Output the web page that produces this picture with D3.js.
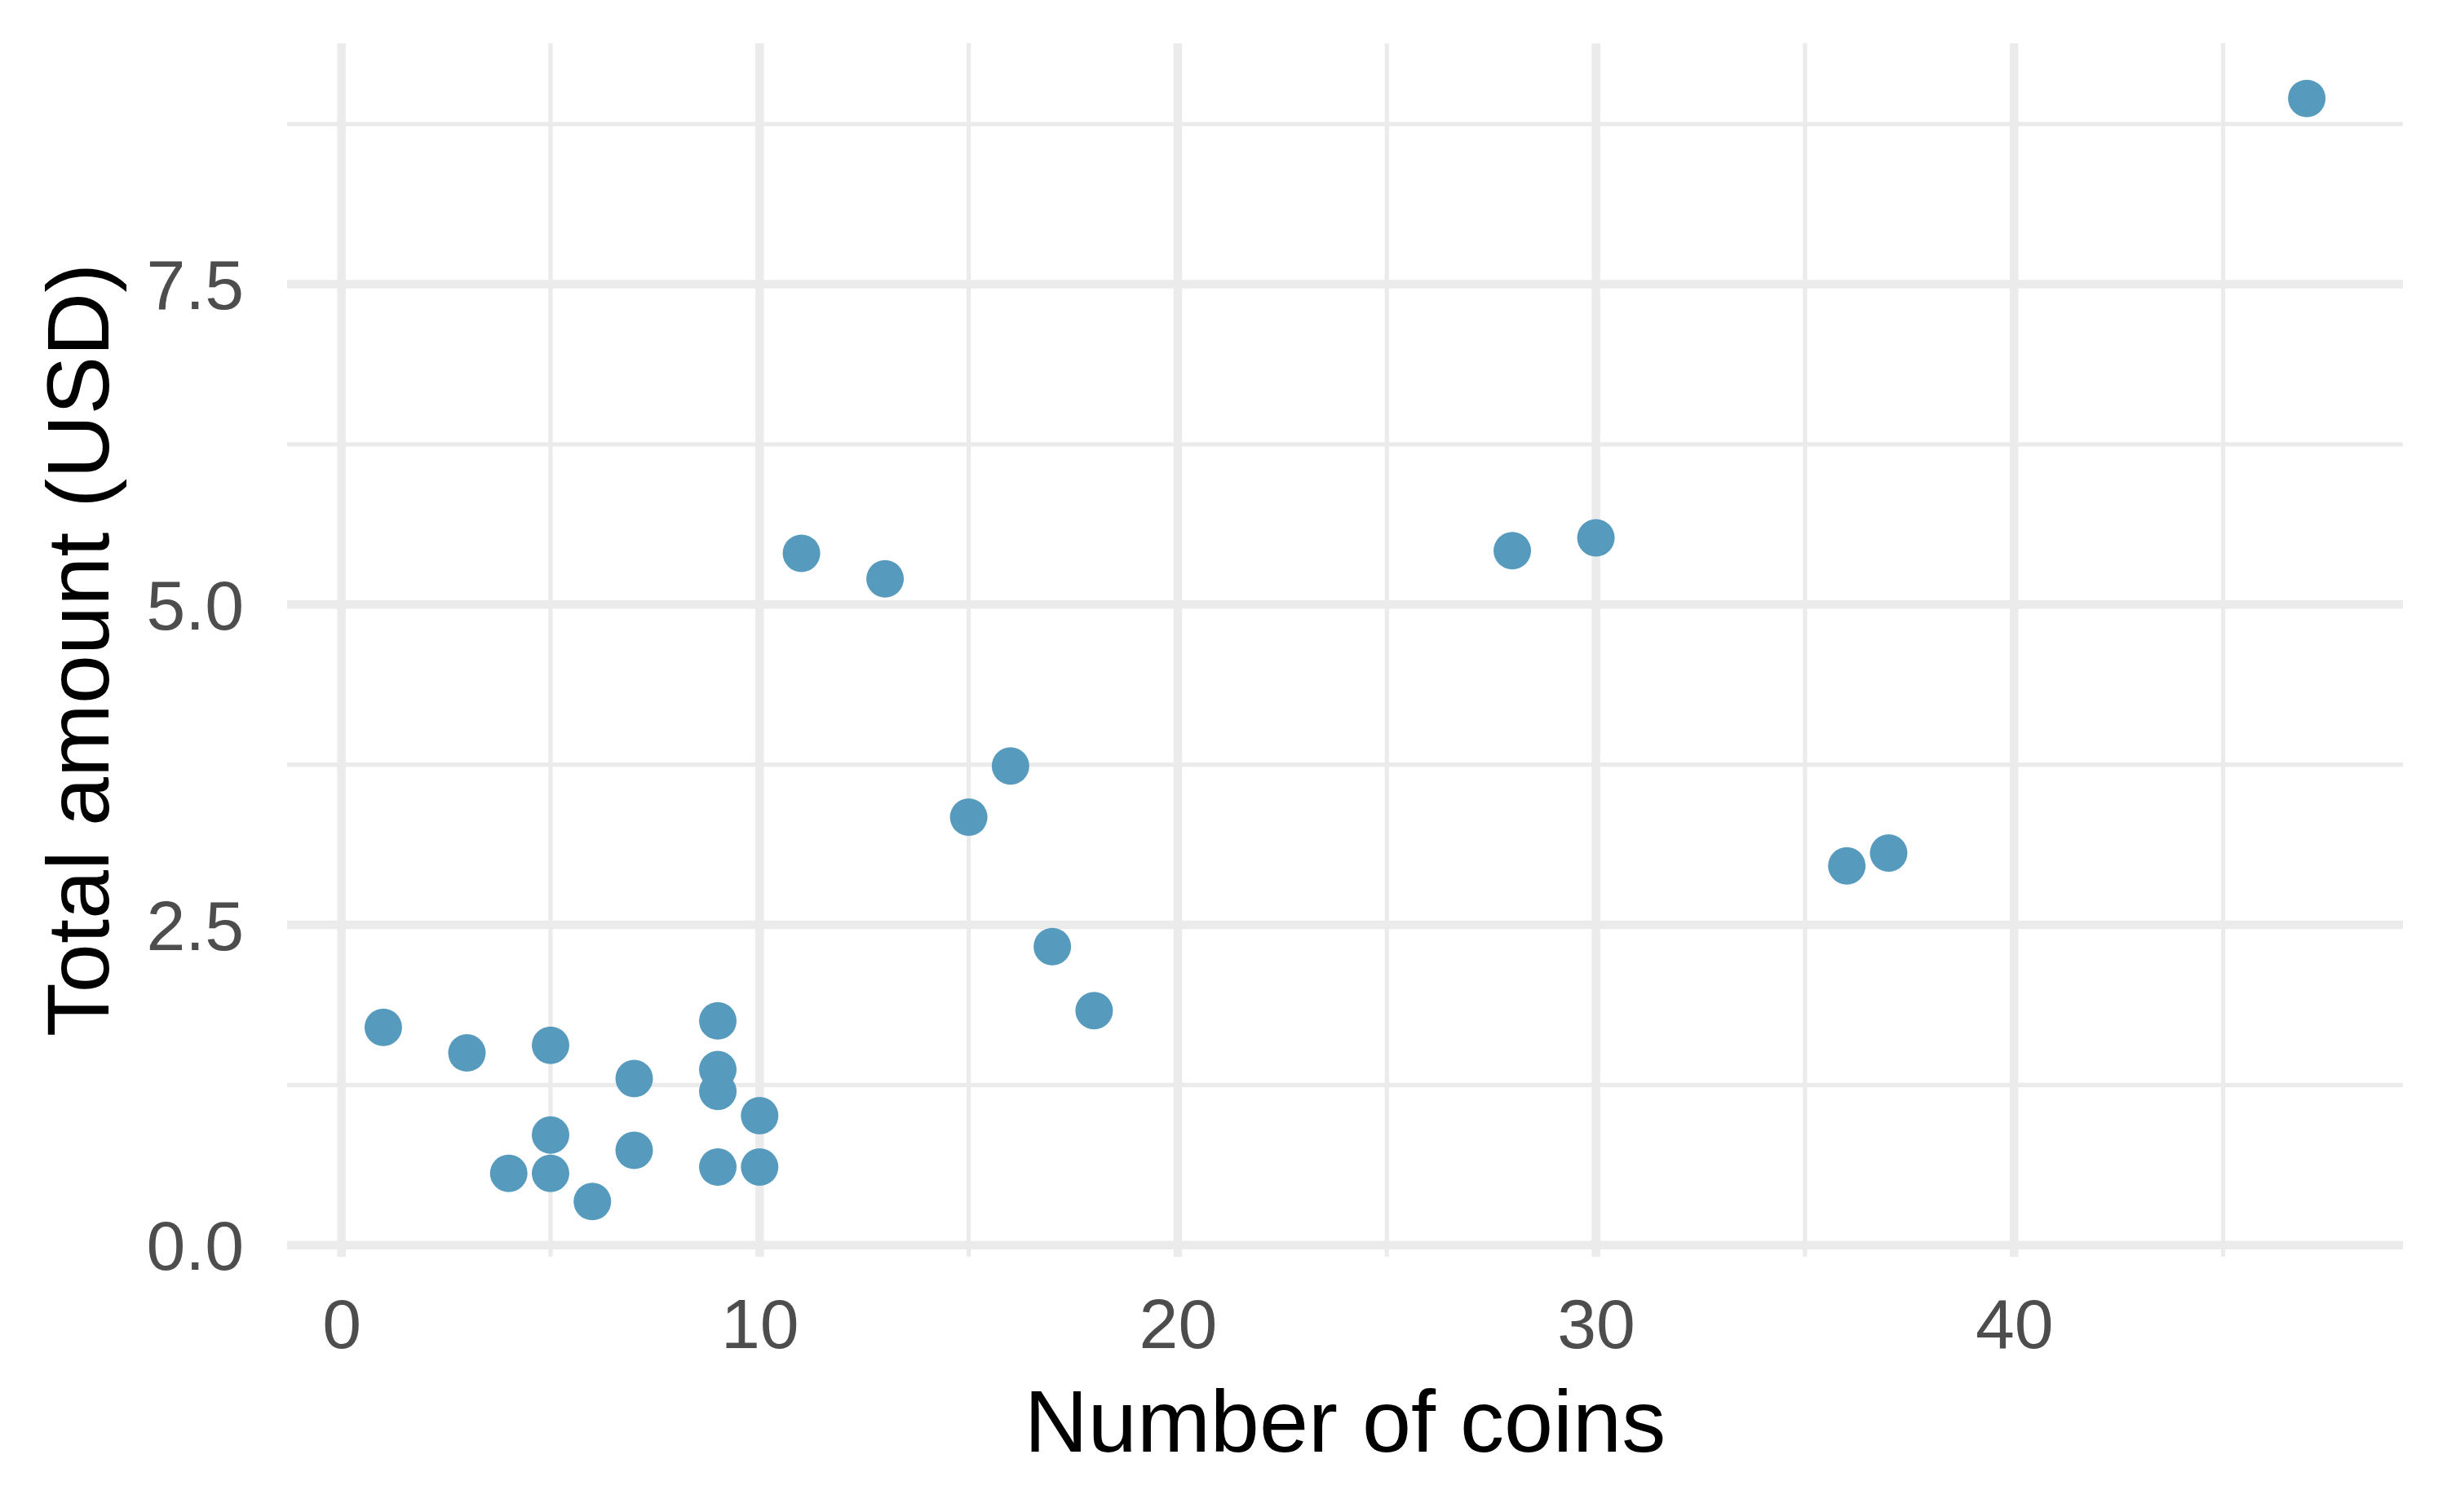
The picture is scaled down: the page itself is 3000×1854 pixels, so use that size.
<!DOCTYPE html>
<html>
<head>
<meta charset="utf-8">
<script src="https://cdn.jsdelivr.net/npm/d3@7"></script>
<style>
  html, body { margin: 0; padding: 0; background: #ffffff; }
  svg { display: block; }
  text { font-family: "Liberation Sans", Arial, Helvetica, sans-serif; }
</style>
</head>
<body>
<script>
// ---- data ----
const coins  = [1, 3, 5, 7, 9, 9, 9, 10, 5, 4, 5, 6, 7, 9, 10, 11, 13, 15, 16, 17, 18, 28, 30, 36, 37, 47];
const amount = [1.70, 1.50, 1.56, 1.30, 1.75, 1.37, 1.20, 1.01, 0.86, 0.56, 0.56, 0.34, 0.74, 0.61, 0.61,
                5.40, 5.20, 3.34, 3.74, 2.33, 1.83, 5.42, 5.52, 2.96, 3.06, 8.95];
const xMajorTicks = [0, 10, 20, 30, 40];
const xMinorTicks = [5, 15, 25, 35, 45];
const yMajorTicks = [0, 2.5, 5.0, 7.5];
const yMinorTicks = [1.25, 3.75, 6.25, 8.75];
const xTitle = "Number of coins";
const yTitle = "Total amount (USD)";

// ---- layout ----
const W = 3000, H = 1854;
const panel = { left: 352, right: 2946, top: 53, bottom: 1541 };

function expand(ext, f) {
  const r = ext[1] - ext[0];
  return [ext[0] - r * f, ext[1] + r * f];
}

const x = d3.scaleLinear().domain(expand(d3.extent(coins), 0.05)).range([panel.left, panel.right]);
const y = d3.scaleLinear().domain(expand(d3.extent(amount), 0.05)).range([panel.bottom, panel.top]);

const svg = d3.select("body").append("svg")
  .attr("width", W).attr("height", H)
  .attr("viewBox", `0 0 ${W} ${H}`);

svg.append("rect").attr("width", W).attr("height", H).attr("fill", "#ffffff");

const grid = svg.append("g");
const gridColor = "#EBEBEB";

// minor gridlines
grid.selectAll(".vmin").data(xMinorTicks).enter().append("line")
  .attr("x1", d => x(d)).attr("x2", d => x(d))
  .attr("y1", panel.top).attr("y2", panel.bottom)
  .attr("stroke", gridColor).attr("stroke-width", 5.3);
grid.selectAll(".hmin").data(yMinorTicks).enter().append("line")
  .attr("y1", d => y(d)).attr("y2", d => y(d))
  .attr("x1", panel.left).attr("x2", panel.right)
  .attr("stroke", gridColor).attr("stroke-width", 5.3);
// major gridlines
grid.selectAll(".vmaj").data(xMajorTicks).enter().append("line")
  .attr("x1", d => x(d)).attr("x2", d => x(d))
  .attr("y1", panel.top).attr("y2", panel.bottom)
  .attr("stroke", gridColor).attr("stroke-width", 10.5);
grid.selectAll(".hmaj").data(yMajorTicks).enter().append("line")
  .attr("y1", d => y(d)).attr("y2", d => y(d))
  .attr("x1", panel.left).attr("x2", panel.right)
  .attr("stroke", gridColor).attr("stroke-width", 10.5);

// axes (labels only, no domain line / ticks)
const xAxis = d3.axisBottom(x).tickValues(xMajorTicks).tickFormat(d3.format("d")).tickSize(0).tickPadding(0);
const gx = svg.append("g").attr("transform", `translate(0, ${panel.bottom})`).call(xAxis);
gx.select(".domain").remove();
gx.selectAll("text")
  .attr("y", 112).attr("dy", 0)
  .attr("fill", "#4D4D4D").attr("font-size", 86)
  .attr("font-family", "'Liberation Sans', Arial, Helvetica, sans-serif");

const yAxis = d3.axisLeft(y).tickValues(yMajorTicks).tickFormat(d3.format(".1f")).tickSize(0).tickPadding(0);
const gy = svg.append("g").attr("transform", `translate(${panel.left}, 0)`).call(yAxis);
gy.select(".domain").remove();
gy.selectAll("text")
  .attr("x", -53).attr("dy", "0.35em")
  .attr("fill", "#4D4D4D").attr("font-size", 86)
  .attr("font-family", "'Liberation Sans', Arial, Helvetica, sans-serif");

// points
svg.append("g").selectAll("circle")
  .data(coins.map((c, i) => ({ c, a: amount[i] })))
  .enter().append("circle")
  .attr("cx", d => x(d.c))
  .attr("cy", d => y(d.a))
  .attr("r", 23)
  .attr("fill", "#569BBD");

// axis titles
svg.append("text")
  .attr("x", (panel.left + panel.right) / 2)
  .attr("y", 1780)
  .attr("text-anchor", "middle")
  .attr("font-size", 108)
  .attr("fill", "#000000")
  .text(xTitle);

svg.append("text")
  .attr("transform", `translate(133, ${(panel.top + panel.bottom) / 2}) rotate(-90)`)
  .attr("text-anchor", "middle")
  .attr("font-size", 108)
  .attr("fill", "#000000")
  .text(yTitle);
</script>
</body>
</html>
